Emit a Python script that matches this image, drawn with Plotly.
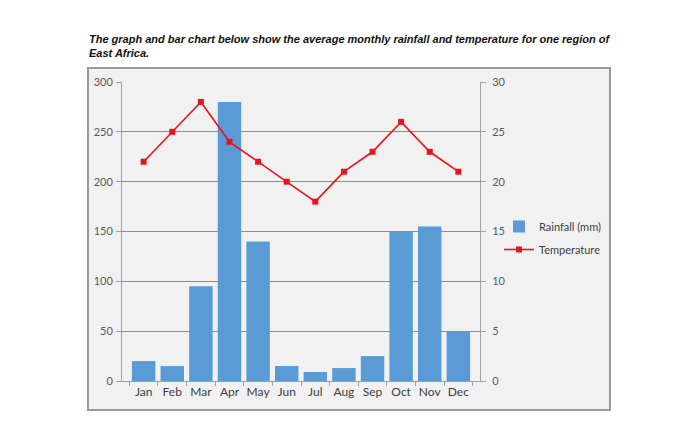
import plotly.graph_objects as go

months = ["Jan", "Feb", "Mar", "Apr", "May", "Jun", "Jul", "Aug", "Sep", "Oct", "Nov", "Dec"]
rainfall = [20, 15, 95, 280, 140, 15, 9, 13, 25, 150, 155, 50]
temperature = [22, 25, 28, 24, 22, 20, 18, 21, 23, 26, 23, 21]
left_ticks = [0, 50, 100, 150, 200, 250, 300]
right_ticks = [0, 5, 10, 15, 20, 25, 30]

W, H = 700, 434
def px(x): return x / W
def py(y): return 1 - y / H

tick_font = dict(family="Lato, Open Sans, sans-serif", size=11, color="#595959")

fig = go.Figure()
fig.add_trace(go.Bar(x=months, y=rainfall, name="Rainfall (mm)", legendgroup="a",
                     marker=dict(color="#5b9bd5", line=dict(width=0)), yaxis="y"))
fig.add_trace(go.Scatter(x=months, y=temperature, name="Temperature", yaxis="y2", legendgroup="b",
                         mode="lines+markers",
                         line=dict(color="#e8141c", width=1.6),
                         marker=dict(symbol="square", size=6, color="#e8141c")))

fig.update_layout(
    width=W, height=434,
    margin=dict(l=0, r=0, t=0, b=0, autoexpand=False),
    paper_bgcolor="white",
    plot_bgcolor="rgba(0,0,0,0)",
    bargap=0.18,
    showlegend=True,
    legend=dict(x=px(499), y=py(212), xanchor="left", yanchor="top",
                font=dict(family="Lato, Open Sans, sans-serif", size=11, color="#404040"),
                bgcolor="rgba(0,0,0,0)", tracegroupgap=4, itemwidth=30),
    xaxis=dict(domain=[px(122), px(480)], type="category", automargin=False,
               showline=True, linecolor="#a0a0a0", linewidth=1, tickangle=0,
               ticks="outside", tickson="boundaries", ticklen=4, tickcolor="#a0a0a0",
               tickfont=dict(family="Lato, Open Sans, sans-serif", size=12, color="#404040"),
               showgrid=False, anchor="y"),
    yaxis=dict(domain=[py(381), py(82)], range=[0, 300], tickvals=left_ticks, automargin=False,
               showline=True, linecolor="#a0a0a0", linewidth=1,
               ticks="outside", ticklen=5, tickcolor="#a0a0a0",
               tickfont=tick_font, ticklabelstandoff=1,
               showgrid=True, gridcolor="#8c8c8c", gridwidth=1, zeroline=False),
    yaxis2=dict(overlaying="y", side="right", range=[0, 30], tickvals=right_ticks, automargin=False,
                showline=True, linecolor="#a0a0a0", linewidth=1,
                ticks="outside", ticklen=5, tickcolor="#a0a0a0",
                tickfont=tick_font, ticklabelstandoff=4,
                showgrid=False, zeroline=False, anchor="x"),
    shapes=[dict(type="rect", xref="paper", yref="paper",
                 x0=px(88), x1=px(610), y0=py(410), y1=py(68),
                 fillcolor="#f1f1f1", line=dict(color="#9a9a9a", width=2), layer="below")],
    annotations=[dict(xref="paper", yref="paper", x=px(87), y=py(31), xanchor="left", yanchor="top",
                      align="left", showarrow=False,
                      text="<b><i>The graph and bar chart below show the average monthly rainfall and temperature for one region of<br>East Africa.</i></b>",
                      font=dict(family="Liberation Sans, Arial, sans-serif", size=11, color="#111111"))],
)

fig.write_html("out.html", config={"displayModeBar": False},
               post_script="document.body.style.margin='0';document.body.style.overflow='hidden';")
